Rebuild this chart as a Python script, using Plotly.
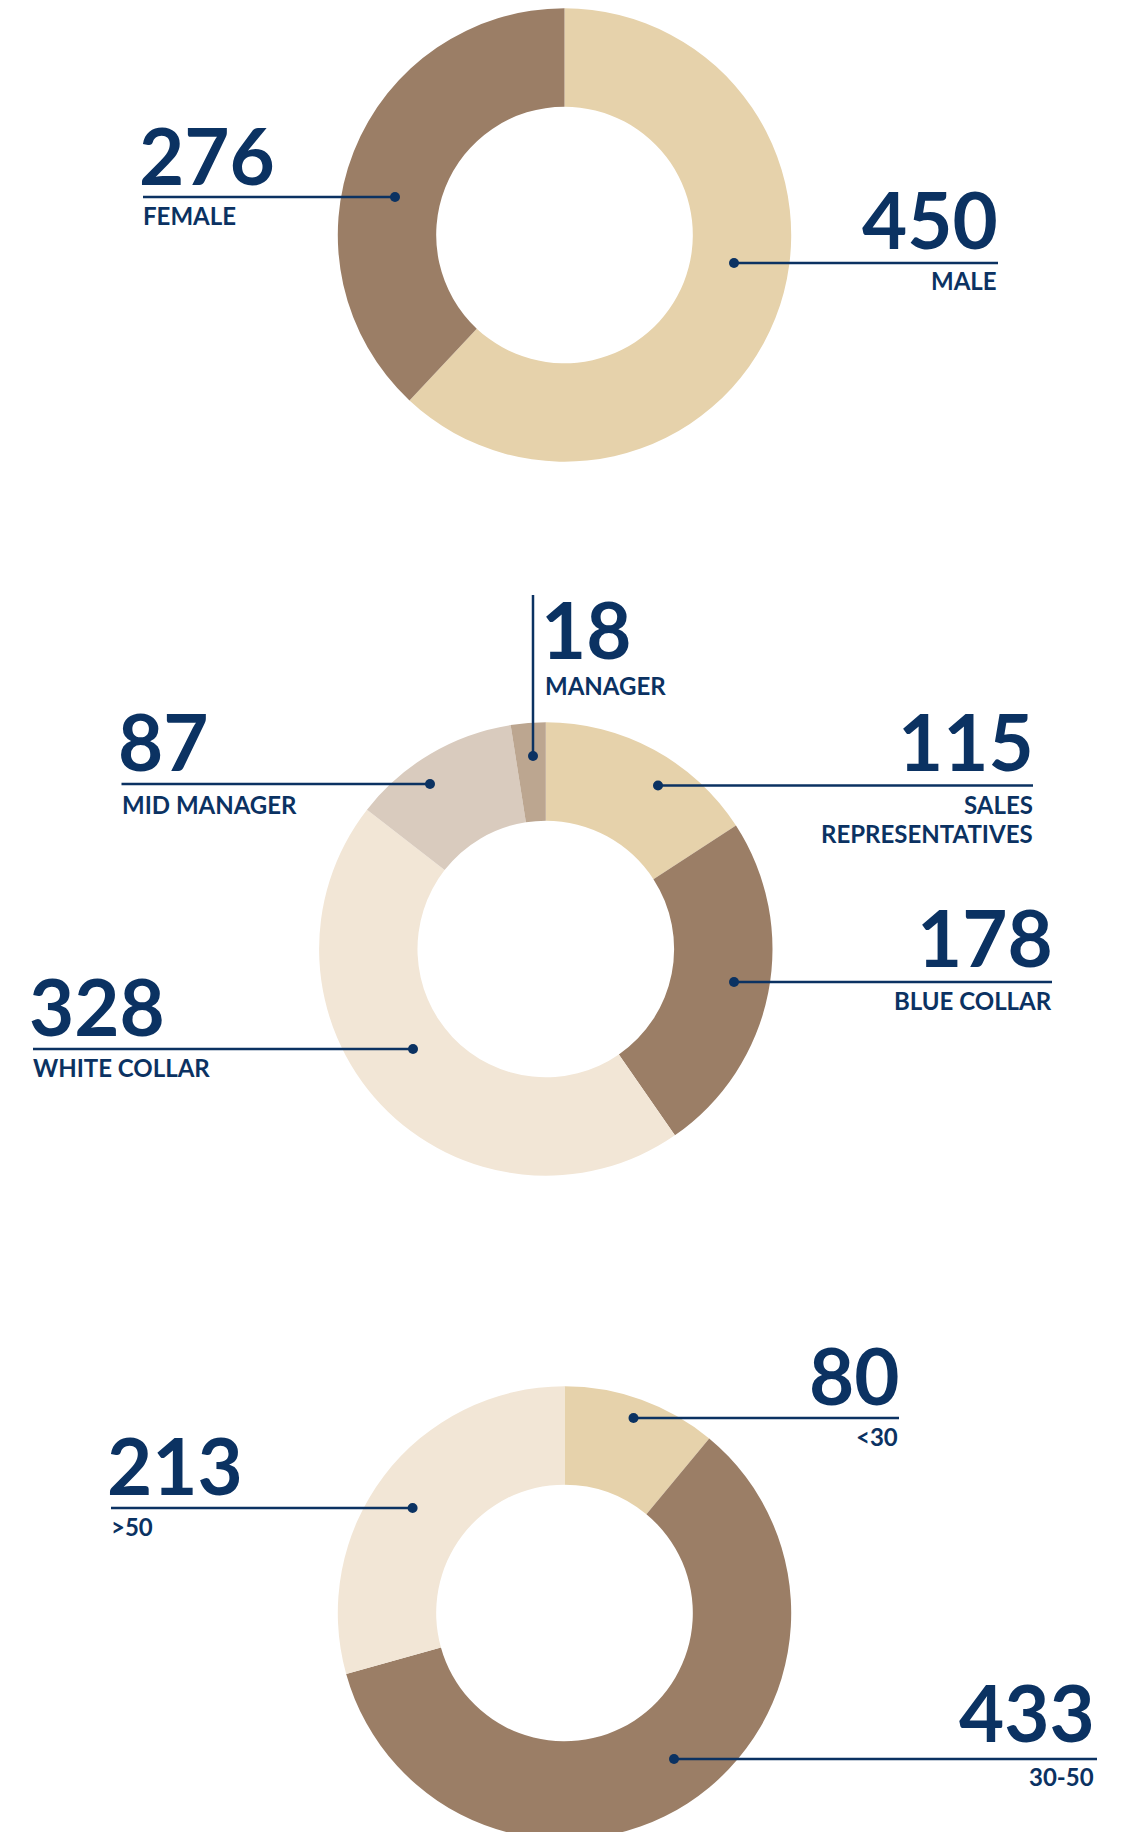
import plotly.graph_objects as go

# ---------------- data ----------------
gender_labels = ["MALE", "FEMALE"]
gender_values = [450, 276]

role_labels = ["SALES<br>REPRESENTATIVES", "BLUE COLLAR", "WHITE COLLAR", "MID MANAGER", "MANAGER"]
role_values = [115, 178, 328, 87, 18]

age_labels = ["<30", "30-50", ">50"]
age_values = [80, 433, 213]

# ---------------- style ----------------
W, H = 1122, 1832
OFF = 8  # page body margin
NAVY = "#0B3262"
TAN = "#E6D2AB"
BROWN = "#9B7E66"
CREAM = "#F2E6D6"
GREYBEIGE = "#D9CBBE"
TAUPE = "#BCA690"
FONT = "Lato"
R_OUT = 226.7
HOLE = 0.566


def px_x(x):
    return (x - OFF) / W


def px_y(y):
    return 1 - (y - OFF) / H


def domain(cx, cy, r):
    return dict(x=[px_x(cx - r), px_x(cx + r)], y=[max(0, px_y(cy + r)), px_y(cy - r)])


fig = go.Figure()

pies = [
    (gender_labels, gender_values, [TAN, BROWN], (564.5, 235)),
    (role_labels, role_values, [TAN, BROWN, CREAM, GREYBEIGE, TAUPE], (545.8, 949)),
    (age_labels, age_values, [TAN, BROWN, CREAM], (564.5, 1613)),
]
for labels, values, colors, (cx, cy) in pies:
    fig.add_trace(go.Pie(
        labels=labels, values=values, hole=HOLE, sort=False, direction="clockwise",
        rotation=0, textinfo="none", hoverinfo="label+value",
        marker=dict(colors=colors, line=dict(width=0)),
        domain=domain(cx, cy, R_OUT), showlegend=False,
    ))

# callouts: (value, label lines, anchor, x, number cap-center y, label cap-center ys)
callouts = [
    (gender_values[1], ["FEMALE"], "left", 143, 156.5, [216]),
    (gender_values[0], ["MALE"], "right", 997, 221, [281.5]),
    (role_values[4], ["MANAGER"], "left", 545, 631, [686.5]),
    (role_values[3], ["MID MANAGER"], "left", 121.5, 743, [806]),
    (role_values[0], ["SALES", "REPRESENTATIVES"], "right", 1033, 742.5, [805.5, 834.5]),
    (role_values[1], ["BLUE COLLAR"], "right", 1052, 939, [1001.5]),
    (role_values[2], ["WHITE COLLAR"], "left", 33, 1007.5, [1068]),
    (age_values[0], ["<30"], "right", 898, 1377, [1437]),
    (age_values[2], [">50"], "left", 111, 1467, [1527]),
    (age_values[1], ["30-50"], "right", 1094, 1714, [1777.5]),
]

for val, lbls, anchor, x, ny, lys in callouts:
    dx = -6 if anchor == "left" else 3
    fig.add_annotation(
        text=str(val), x=px_x(x + dx), y=px_y(ny - 2), xref="paper", yref="paper",
        xanchor=anchor, yanchor="middle", showarrow=False,
        font=dict(family=FONT, size=78, color=NAVY, weight="bold"),
    )
    for lt, ly in zip(lbls, lys):
        fig.add_annotation(
            text=lt.replace("<", "&lt;").replace(">", "&gt;"),
            x=px_x(x + (-2 if anchor == "left" else 1.5)), y=px_y(ly - 1),
            xref="paper", yref="paper",
            xanchor=anchor, yanchor="middle", showarrow=False,
            font=dict(family=FONT, size=24, color=NAVY, weight="bold"),
        )

# leader lines: (x0, y0, x1, y1, dot x, dot y)
leaders = [
    (143, 197, 395, 197, 395, 197),
    (734, 263, 998, 263, 734, 263),
    (533, 595, 533, 756, 533, 756),
    (121.5, 784, 430, 784, 430, 784),
    (658, 785.5, 1033, 785.5, 658, 785.5),
    (734, 982, 1052, 982, 734, 982),
    (33, 1049, 413, 1049, 413, 1049),
    (633.5, 1418, 899, 1418, 633.5, 1418),
    (111, 1508, 412.6, 1508, 412.6, 1508),
    (674, 1759, 1097, 1759, 674, 1759),
]
DOT = 5
for x0, y0, x1, y1, ddx, ddy in leaders:
    fig.add_shape(type="line", xref="paper", yref="paper",
                  x0=px_x(x0), y0=px_y(y0), x1=px_x(x1), y1=px_y(y1),
                  line=dict(color=NAVY, width=2.5))
    fig.add_shape(type="circle", xref="paper", yref="paper",
                  x0=px_x(ddx - DOT), x1=px_x(ddx + DOT), y0=px_y(ddy + DOT), y1=px_y(ddy - DOT),
                  fillcolor=NAVY, line=dict(width=0))

fig.update_layout(
    width=W, height=H, margin=dict(l=0, r=0, t=0, b=0),
    paper_bgcolor="white", plot_bgcolor="white",
)

fig.write_html("out.html")
